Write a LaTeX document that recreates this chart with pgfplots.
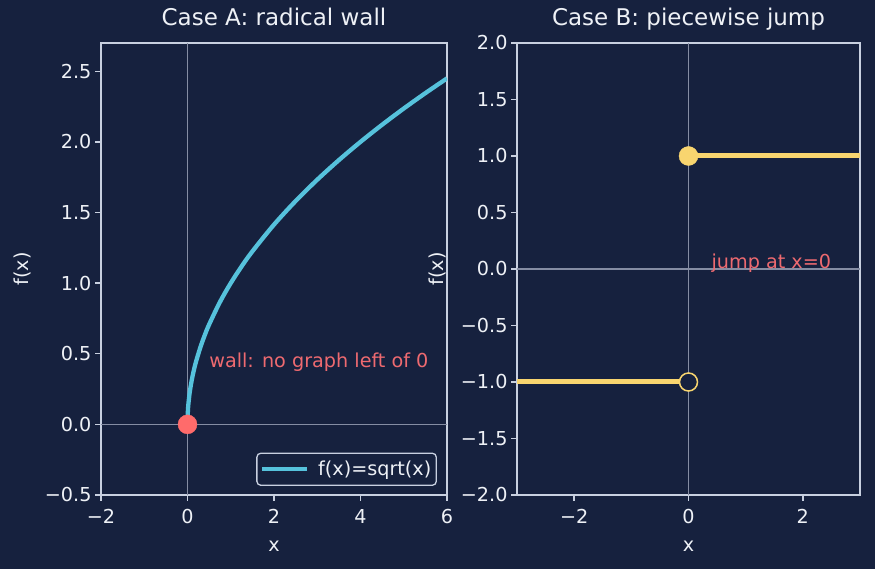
\documentclass[border=0pt]{standalone}
\usepackage{pgfplots}
\pgfplotsset{compat=1.18}
\usepackage{fontspec}
\setmainfont{DejaVu Sans}
\definecolor{bg}{HTML}{16213E}
\definecolor{spine}{HTML}{C8D0E0}
\definecolor{txt}{HTML}{EEF1F6}
\definecolor{cyanl}{HTML}{56C2DC}
\definecolor{redm}{HTML}{FF6B6B}
\definecolor{ann}{HTML}{EE6A70}
\definecolor{yel}{HTML}{F8D56F}
\definecolor{gridc}{HTML}{858DA3}
\newcommand{\fs}{\fontsize{19.2}{21}\selectfont}
\begin{document}
\begin{tikzpicture}
\fill[bg] (0pt,0pt) rectangle (875pt,569pt);
\useasboundingbox (0pt,0pt) rectangle (875pt,569pt);
\pgfplotsset{
 common/.style={
  scale only axis, anchor=south west,
  axis line style={spine, line width=1.4pt},
  every tick/.style={spine, line width=1.4pt},
  tick align=outside, major tick length=6pt,
  xtick pos=bottom, ytick pos=left,
  ticklabel style={font=\fs, text=txt},
  xticklabel style={yshift=-5pt},
  label style={font=\fs, text=txt},
  title style={font=\fontsize{23}{25}\selectfont, text=txt, at={(0.5,1)}, anchor=base, yshift=11pt},
  axis background/.style={fill=bg},
  xlabel style={at={(axis description cs:0.5,0)}, anchor=center, yshift=-51pt},
 }
}
\begin{axis}[common, at={(101pt,74pt)}, width=346pt, height=452pt,
  xmin=-2, xmax=6, ymin=-0.5, ymax=2.7,
  xtick={-2,0,2,4,6}, xticklabels={−2,0,2,4,6},
  ytick={-0.5,0,0.5,1,1.5,2,2.5}, yticklabels={−0.5,0.0,0.5,1.0,1.5,2.0,2.5},
  title={Case A: radical wall}, xlabel={x}, ylabel={f(x)},
  ylabel style={at={([xshift=-79pt]axis description cs:0,0.5)}, anchor=center},
  legend style={at={(axis description cs:0.971,0.02)}, anchor=south east, draw=spine, fill=bg,
    rounded corners=4pt, text=txt, font=\fs, line width=1.3pt,
    inner xsep=3pt, inner ysep=6pt, nodes={inner xsep=2pt, inner ysep=2pt}},
  legend image code/.code={\draw[#1] (0pt,0pt) -- (45pt,0pt);},
  legend cell align=left]
\addplot[gridc, line width=1.5pt, forget plot] coordinates {(0,-0.5) (0,2.7)};
\addplot[gridc, line width=1.5pt, forget plot] coordinates {(-2,0) (6,0)};
\addplot[cyanl, line width=4.3pt, smooth] coordinates {
(0,0) (0.001,0.0316) (0.005,0.0707) (0.01,0.1) (0.02,0.1414) (0.05,0.2236) (0.1,0.3162)
(0.15,0.3873) (0.2,0.4472) (0.3,0.5477) (0.4,0.6325) (0.5,0.7071) (0.75,0.8660) (1,1)
(1.25,1.1180) (1.5,1.2247) (2,1.4142) (2.5,1.5811) (3,1.7321) (3.5,1.8708) (4,2)
(4.5,2.1213) (5,2.2361) (5.5,2.3452) (6,2.4495)};
\addlegendentry{\hspace{7pt}f(x)=sqrt(x)}
\addplot[only marks, mark=*, mark size=9.5pt, redm, mark options={draw=redm, fill=redm}, forget plot] coordinates {(0,0)};
\node[text=ann, anchor=base west, inner sep=0pt, font=\fs] at (axis cs:0.5,0.4) {wall: no graph left of 0};
\end{axis}
\begin{axis}[common, at={(517pt,74pt)}, width=343pt, height=452pt,
  xmin=-3, xmax=3, ymin=-2, ymax=2,
  xtick={-2,0,2}, xticklabels={−2,0,2},
  ytick={-2,-1.5,-1,-0.5,0,0.5,1,1.5,2}, yticklabels={−2.0,−1.5,−1.0,−0.5,0.0,0.5,1.0,1.5,2.0},
  title={Case B: piecewise jump}, xlabel={x}, ylabel={f(x)},
  ylabel style={at={([xshift=-80pt]axis description cs:0,0.5)}, anchor=center}]
\addplot[gridc, line width=1.5pt] coordinates {(0,-2) (0,2)};
\addplot[gridc, line width=1.5pt] coordinates {(-3,0) (3,0)};
\addplot[yel, line width=5pt] coordinates {(-3,-1) (0,-1)};
\addplot[yel, line width=5pt] coordinates {(0,1) (3,1)};
\addplot[only marks, mark=*, mark size=9pt, mark options={draw=yel, fill=bg, line width=1.5pt}] coordinates {(0,-1)};
\addplot[only marks, mark=*, mark size=9.5pt, mark options={draw=yel, fill=yel}] coordinates {(0,1)};
\node[text=ann, anchor=base west, inner sep=0pt, font=\fs] at (axis cs:0.4,0) {jump at x=0};
\end{axis}
\end{tikzpicture}
\end{document}
